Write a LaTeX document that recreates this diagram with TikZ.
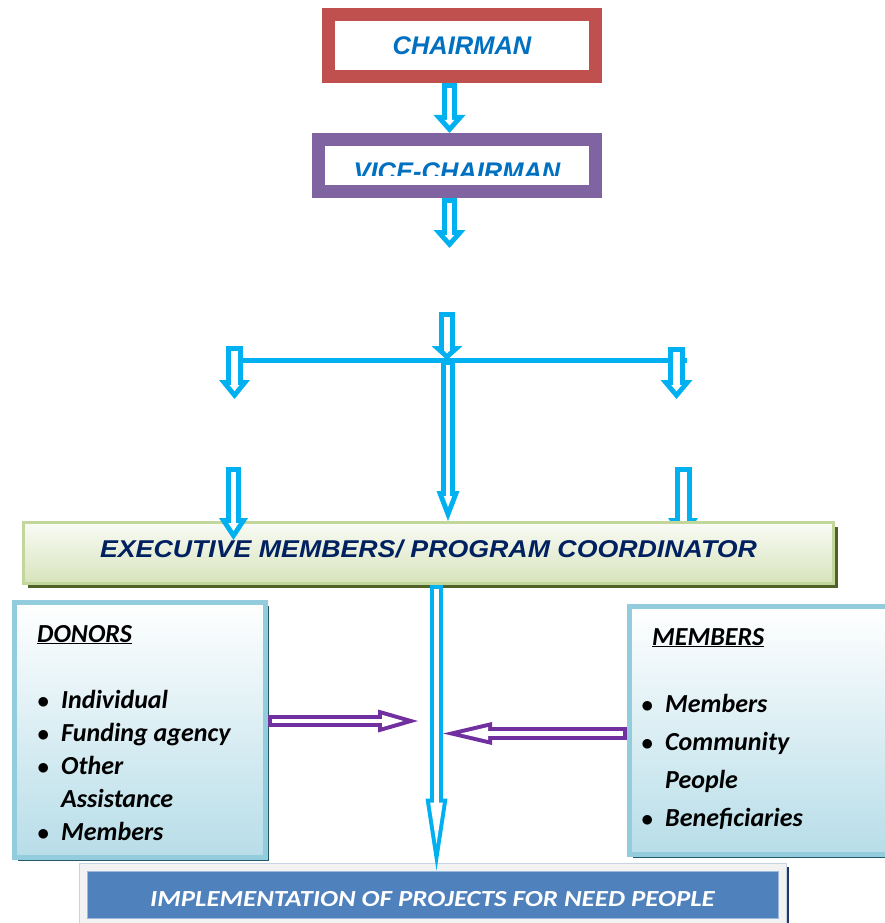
\documentclass[tikz,border=0pt]{standalone}
\usepackage{fontspec}
\newfontfamily\arialfont{Liberation Sans}
\newfontfamily\execfont[FakeStretch=1.1]{Liberation Sans}
\newfontfamily\calfont{Carlito}
\newfontfamily\implfont[FakeStretch=1.17]{Carlito}
\usetikzlibrary{arrows.meta,shadows}

\definecolor{chairred}{HTML}{C0504D}
\definecolor{vicepurple}{HTML}{8064A2}
\definecolor{titleblue}{HTML}{0070C0}
\definecolor{arrblue}{HTML}{00B0F0}
\definecolor{arrpurple}{HTML}{7030A0}
\definecolor{execline}{HTML}{C3D69B}
\definecolor{exectop}{HTML}{F9FBF5}
\definecolor{execbot}{HTML}{D7E3BC}
\definecolor{execdark}{HTML}{4F6228}
\definecolor{execnavy}{HTML}{002060}
\definecolor{listline}{HTML}{93CDDD}
\definecolor{listbot}{HTML}{B7DDE8}
\definecolor{listdark}{HTML}{215968}
\definecolor{implblue}{HTML}{4F81BD}
\definecolor{implline}{HTML}{9DB9DD}
\definecolor{implgray}{HTML}{F2F2F2}
\definecolor{implframe}{HTML}{C6D4E4}
\definecolor{impldark}{HTML}{1F3864}

\tikzset{
  hollow/.code args={#1/#2/#3/#4/#5}{%
    \pgfmathsetmacro\hsin{(#2/2)/veclen(#2/2,#3)}%
    \pgfmathsetmacro\htip{#4/\hsin}%
    \pgfmathsetmacro\hlen{#3-#4-\htip}%
    \pgfmathsetmacro\hwid{\hlen*#2/#3}%
    \pgfmathsetmacro\hshaft{#1-2*#4}%
    \edef\hollowopts{preaction={draw=#5,line width=#1pt,shorten <=0pt,shorten >=0pt,-{Triangle[length=#3pt,width=#2pt,line width=0pt]}},draw=white,line width=\hshaft pt,shorten <=#4pt,shorten >=\htip pt,-{Triangle[length=\hlen pt,width=\hwid pt,line width=0pt]}}%
    \expandafter\tikzset\expandafter{\hollowopts}%
  },
  rankbox/.style={draw=#1, line width=13pt, fill=white, inner sep=0pt,
    font=\arialfont\bfseries\itshape\fontsize{25.5}{30}\selectfont, text=titleblue},
  listbox/.style={draw=listline, line width=5pt, top color=white, bottom color=listbot,
    drop shadow={shadow xshift=3.5pt, shadow yshift=-3.5pt, fill=listdark, opacity=1}},
  listtext/.style={inner sep=0pt, font=\calfont\bfseries\itshape\fontsize{26}{#1}\selectfont}
}

\begin{document}
\begin{tikzpicture}[x=1pt, y=-1pt]

  \useasboundingbox (0,0) rectangle (884,923);

  \node[rankbox=chairred, minimum width=267pt, minimum height=62pt] (chair) at (462,45.5) {CHAIRMAN};
  \node[rankbox=vicepurple, minimum width=277pt, minimum height=52pt, text height=29pt, text depth=0pt] (vice) at (457,165.5) {VICE-CHAIRMAN};
  \fill[white] (326,176) rectangle (588,185);

  \coordinate (spine) at (449.5,0);
  \coordinate (vcend) at (449.5,248);
  \draw[hollow=15/32/18/5/arrblue] (chair.south -| spine) -- (vice.north -| spine);
  \draw[hollow=15/32/18/5/arrblue] (vice.south -| spine) -- (vcend);

  \coordinate (midtop) at (447,312);
  \coordinate (join) at (447,360);
  \coordinate (lbar) at (240,360);
  \coordinate (rbar) at (687,360);
  \coordinate (ltop) at (234.5,346);
  \coordinate (lend) at (234.5,399);
  \coordinate (rtop) at (676.5,347);
  \coordinate (rend) at (676.5,399);
  \coordinate (ltop2) at (233.5,467);
  \coordinate (lend2) at (233.5,540);
  \coordinate (rtop2) at (683,467);
  \coordinate (rend2) at (683,540);

  \draw[arrblue, line width=5pt] (lbar) -- (rbar);
  \draw[hollow=16/31/14/5/arrblue] (midtop) -- (join);
  \draw[hollow=17/31/19/5/arrblue] (ltop) -- (lend);
  \draw[hollow=17/32/19/5/arrblue] (rtop) -- (rend);
  \draw[hollow=17/30/22/5/arrblue] (rtop2) -- (rend2);

  \node[draw=execline, line width=3pt, top color=exectop, bottom color=execbot,
    drop shadow={shadow xshift=4pt, shadow yshift=-4pt, fill=execdark, opacity=1},
    minimum width=810pt, minimum height=61pt, inner sep=0pt,
    text height=17pt, text depth=9pt, text=execnavy,
    font=\execfont\bfseries\itshape\fontsize{24.3}{28}\selectfont] (exec) at (428.5,553)
    {EXECUTIVE MEMBERS/ PROGRAM COORDINATOR};

  \draw[hollow=14/23/30/5/arrblue] (join -| 448,0) -- (exec.north -| 448,0);
  \draw[hollow=15/29/22/5/arrblue] (ltop2) -- (lend2);

  \node[listbox, minimum width=251pt, minimum height=255pt] (donors) at (140,730) {};
  \node[listbox, minimum width=258.5pt, minimum height=248pt] (members) at (758.75,730.5) {};

  \node[listtext=33pt, anchor=base west] (donorlist) at (37,642) {%
    \begin{tabular}[t]{@{}l@{}l@{}}
      \multicolumn{2}{@{}l@{}}{\underline{DONORS}}\\[33pt]
      \makebox[24pt][l]{$\bullet$} & Individual\\
      \makebox[24pt][l]{$\bullet$} & Funding agency\\
      \makebox[24pt][l]{$\bullet$} & Other\\
      & Assistance\\
      \makebox[24pt][l]{$\bullet$} & Members
    \end{tabular}};
  \node[listtext=38pt, anchor=base west] (memberlist) at (641,645) {%
    \begin{tabular}[t]{@{}l@{}l@{}}
      \multicolumn{2}{@{\hspace{11pt}}l@{}}{\underline{MEMBERS}}\\[29pt]
      \makebox[24pt][l]{$\bullet$} & Members\\
      \makebox[24pt][l]{$\bullet$} & Community\\
      & People\\
      \makebox[24pt][l]{$\bullet$} & Beneficiaries
    \end{tabular}};

  \coordinate (dtip) at (418,721);
  \coordinate (mtip) at (443,733.5);
  \draw[hollow=12/23/40/4/arrpurple] (donors.east |- dtip) -- (dtip);
  \draw[hollow=13/23/49/4/arrpurple] (members.west |- mtip) -- (mtip);

  \node[draw=implframe, line width=1pt, fill=implgray,
    drop shadow={shadow xshift=3pt, shadow yshift=-4pt, fill=impldark, opacity=1},
    minimum width=707pt, minimum height=67pt] (implframe) at (432.5,896.5) {};
  \node[draw=implline, line width=1pt, fill=implblue, minimum width=691pt, minimum height=47pt,
    inner sep=0pt, text height=23pt, text depth=0pt, text=white,
    font=\implfont\bfseries\itshape\fontsize{23}{27}\selectfont] (impl) at (432.5,894.5)
    {IMPLEMENTATION OF PROJECTS FOR NEED PEOPLE};

  \draw[hollow=13/22/72/4/arrblue] (exec.south -| 436.5,0) -- (impl.north -| 436.5,0);

\end{tikzpicture}
\end{document}
